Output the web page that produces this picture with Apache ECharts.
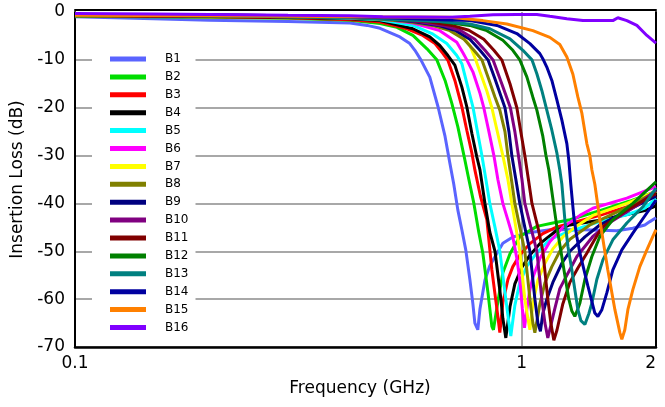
<!DOCTYPE html>
<html>
<head>
<meta charset="utf-8">
<script src="https://cdn.jsdelivr.net/npm/echarts@6/dist/echarts.min.js"></script>
<style>
  html, body { margin: 0; padding: 0; background: #fff; }
  #chart { width: 665px; height: 407px; }
</style>
</head>
<body>
<div id="chart"></div>
<script>
// Low-pass filter bank: insertion loss (dB) versus frequency (GHz), one trace per band.
const bandNames = ['B1', 'B2', 'B3', 'B4', 'B5', 'B6', 'B7', 'B8',
                   'B9', 'B10', 'B11', 'B12', 'B13', 'B14', 'B15', 'B16'];

// Each trace: [frequency GHz, insertion loss dB]
const b1 = [[0.1,-1.0],[0.15,-1.4],[0.2,-1.7],[0.3,-2.0],[0.413,-2.3],[0.451,-2.8],[0.482,-3.4],[0.534,-5.2],[0.562,-6.6],[0.577,-8.0],[0.595,-10.0],[0.623,-13.6],[0.650,-19.8],[0.674,-26.0],[0.691,-31.6],[0.705,-36.0],[0.720,-41.4],[0.735,-45.5],[0.750,-49.7],[0.766,-55.9],[0.778,-61.0],[0.786,-65.0],[0.798,-66.4],[0.807,-62.0],[0.828,-56.0],[0.849,-53.0],[0.881,-50.4],[0.908,-48.3],[0.956,-47.0],[1.028,-46.2],[1.157,-45.5],[1.372,-45.5],[1.634,-45.7],[1.775,-45.2],[1.888,-44.5],[1.938,-43.8],[2.0,-43.0]];
const b2 = [[0.1,-0.9],[0.2,-1.1],[0.3,-1.3],[0.413,-1.7],[0.482,-2.4],[0.526,-3.2],[0.571,-4.9],[0.614,-7.7],[0.646,-10.0],[0.674,-14.3],[0.698,-19.1],[0.720,-24.0],[0.743,-30.0],[0.762,-35.0],[0.782,-40.0],[0.802,-46.0],[0.819,-50.4],[0.841,-58.7],[0.858,-65.7],[0.865,-66.4],[0.885,-60.5],[0.908,-54.5],[0.942,-50.5],[0.991,-46.9],[1.082,-44.8],[1.175,-44.1],[1.283,-43.4],[1.497,-41.5],[1.748,-39.5],[2.0,-37.5]];
const b3 = [[0.1,-0.8],[0.2,-1.0],[0.3,-1.2],[0.413,-1.6],[0.482,-2.1],[0.554,-3.5],[0.601,-4.9],[0.640,-6.6],[0.667,-8.7],[0.684,-10.1],[0.709,-14.3],[0.735,-19.8],[0.754,-24.7],[0.774,-29.5],[0.786,-33.0],[0.809,-38.5],[0.836,-43.4],[0.858,-53.9],[0.881,-62.2],[0.894,-67.0],[0.908,-60.7],[0.932,-55.9],[0.956,-53.2],[0.991,-50.8],[1.044,-48.4],[1.116,-46.3],[1.200,-44.9],[1.283,-44.2],[1.497,-42.5],[1.748,-40.5],[2.0,-38.5]];
const b4 = [[0.1,-0.7],[0.2,-0.9],[0.3,-1.1],[0.413,-1.4],[0.482,-1.8],[0.571,-3.5],[0.623,-5.2],[0.656,-7.0],[0.684,-9.1],[0.709,-11.1],[0.735,-15.7],[0.754,-19.8],[0.774,-25.4],[0.794,-30.3],[0.807,-33.0],[0.828,-40.0],[0.849,-46.0],[0.872,-50.0],[0.899,-60.0],[0.908,-64.0],[0.922,-68.1],[0.942,-61.6],[0.966,-56.8],[1.002,-53.3],[1.044,-50.8],[1.099,-48.4],[1.200,-45.6],[1.283,-44.5],[1.497,-43.5],[1.721,-42.3],[1.888,-41.5],[2.0,-40.5]];
const b5 = [[0.1,-0.7],[0.2,-0.8],[0.3,-1.0],[0.413,-1.3],[0.482,-1.6],[0.571,-2.8],[0.630,-4.5],[0.680,-6.6],[0.716,-9.1],[0.735,-10.8],[0.758,-15.7],[0.778,-19.8],[0.798,-25.4],[0.815,-30.0],[0.832,-35.0],[0.849,-40.0],[0.872,-45.0],[0.894,-50.0],[0.922,-60.0],[0.937,-65.0],[0.946,-67.7],[0.966,-61.3],[0.991,-56.5],[1.028,-53.1],[1.082,-50.3],[1.157,-47.5],[1.283,-45.8],[1.497,-43.8],[1.721,-42.4],[1.888,-41.0],[2.0,-39.0]];
const b6 = [[0.1,-0.6],[0.2,-0.7],[0.3,-0.9],[0.413,-1.2],[0.482,-1.4],[0.571,-2.3],[0.656,-3.9],[0.716,-6.3],[0.739,-8.5],[0.754,-10.0],[0.778,-12.5],[0.807,-17.0],[0.823,-20.0],[0.845,-25.0],[0.867,-30.0],[0.885,-35.0],[0.908,-40.0],[0.932,-43.5],[0.956,-47.0],[0.976,-51.5],[0.991,-56.0],[1.004,-62.0],[1.015,-66.0],[1.028,-62.0],[1.044,-58.0],[1.060,-55.5],[1.099,-51.5],[1.157,-48.0],[1.237,-45.0],[1.351,-42.5],[1.444,-41.0],[1.721,-38.9],[2.0,-36.5]];
const b7 = [[0.1,-0.5],[0.2,-0.7],[0.3,-0.9],[0.413,-1.1],[0.482,-1.3],[0.623,-2.3],[0.691,-3.3],[0.735,-5.0],[0.766,-7.0],[0.786,-9.5],[0.807,-12.5],[0.836,-16.5],[0.858,-20.0],[0.885,-25.5],[0.908,-30.0],[0.932,-35.0],[0.951,-40.0],[0.971,-45.0],[0.991,-50.0],[1.017,-60.0],[1.033,-64.0],[1.044,-66.4],[1.060,-61.0],[1.088,-56.0],[1.128,-52.5],[1.175,-49.5],[1.237,-47.0],[1.316,-45.0],[1.444,-42.5],[1.721,-40.0],[2.0,-37.5]];
const b8 = [[0.1,-0.6],[0.2,-0.8],[0.3,-1.0],[0.413,-1.2],[0.482,-1.5],[0.554,-2.0],[0.630,-2.8],[0.688,-3.8],[0.743,-5.7],[0.782,-8.0],[0.815,-10.0],[0.841,-13.6],[0.872,-17.8],[0.894,-20.5],[0.918,-25.0],[0.932,-30.0],[0.949,-35.0],[0.966,-40.0],[0.991,-45.0],[1.017,-50.0],[1.044,-60.0],[1.060,-65.0],[1.071,-67.0],[1.099,-61.0],[1.128,-56.6],[1.169,-53.2],[1.218,-50.0],[1.283,-47.5],[1.422,-44.5],[1.577,-42.5],[1.748,-40.5],[2.0,-37.5]];
const b9 = [[0.1,-0.5],[0.2,-0.7],[0.3,-0.9],[0.413,-1.1],[0.482,-1.3],[0.571,-2.0],[0.650,-2.8],[0.709,-3.8],[0.766,-5.7],[0.807,-8.0],[0.841,-10.0],[0.872,-14.0],[0.918,-20.0],[0.937,-25.0],[0.951,-30.0],[0.971,-35.0],[0.991,-40.0],[1.017,-45.0],[1.044,-50.0],[1.071,-60.0],[1.088,-65.0],[1.102,-66.7],[1.116,-63.0],[1.139,-60.0],[1.175,-56.5],[1.231,-52.5],[1.283,-50.0],[1.386,-47.0],[1.497,-44.5],[1.721,-41.5],[2.0,-38.5]];
const b10 = [[0.1,-0.5],[0.2,-0.6],[0.3,-0.8],[0.413,-1.0],[0.482,-1.2],[0.586,-2.0],[0.667,-2.8],[0.728,-3.8],[0.786,-5.7],[0.828,-8.0],[0.863,-10.0],[0.903,-15.0],[0.944,-20.0],[0.966,-25.0],[0.984,-30.0],[1.002,-35.0],[1.017,-40.0],[1.049,-45.0],[1.082,-50.0],[1.110,-60.0],[1.128,-65.0],[1.145,-68.1],[1.163,-65.5],[1.187,-62.0],[1.218,-57.8],[1.263,-55.0],[1.330,-51.1],[1.444,-46.9],[1.577,-44.0],[1.660,-42.7],[1.840,-40.0],[2.0,-37.2]];
const b11 = [[0.1,-0.6],[0.2,-0.8],[0.3,-1.0],[0.413,-1.1],[0.482,-1.3],[0.614,-2.0],[0.698,-2.8],[0.762,-3.8],[0.823,-5.7],[0.867,-8.0],[0.903,-10.0],[0.942,-15.0],[0.976,-20.0],[0.996,-25.0],[1.017,-30.0],[1.036,-35.0],[1.055,-40.0],[1.088,-45.0],[1.116,-50.0],[1.145,-60.0],[1.163,-65.0],[1.181,-68.6],[1.200,-66.5],[1.237,-61.0],[1.283,-56.5],[1.337,-53.5],[1.400,-50.4],[1.459,-47.5],[1.521,-44.8],[1.721,-41.4],[2.0,-37.9]];
const b12 = [[0.1,-0.5],[0.2,-0.7],[0.3,-0.9],[0.413,-1.1],[0.534,-1.5],[0.656,-2.0],[0.766,-2.8],[0.836,-3.9],[0.908,-5.9],[0.956,-8.0],[0.991,-10.0],[1.028,-13.6],[1.060,-17.8],[1.082,-20.5],[1.116,-26.0],[1.134,-30.0],[1.151,-33.0],[1.175,-39.0],[1.200,-45.0],[1.225,-50.0],[1.250,-55.0],[1.276,-60.0],[1.296,-62.5],[1.316,-63.6],[1.337,-62.0],[1.351,-60.8],[1.386,-55.9],[1.437,-51.1],[1.497,-46.9],[1.601,-43.4],[1.775,-40.0],[2.0,-35.5]];
const b13 = [[0.1,-0.6],[0.2,-0.8],[0.3,-1.0],[0.413,-1.2],[0.534,-1.6],[0.656,-2.0],[0.766,-2.5],[0.849,-3.5],[0.942,-5.6],[1.007,-8.0],[1.055,-10.0],[1.082,-12.9],[1.110,-16.4],[1.139,-20.5],[1.169,-24.7],[1.200,-29.5],[1.218,-33.0],[1.231,-36.0],[1.250,-43.4],[1.270,-49.0],[1.296,-53.9],[1.337,-62.2],[1.358,-64.5],[1.386,-65.3],[1.415,-63.0],[1.437,-60.8],[1.474,-55.9],[1.521,-51.8],[1.601,-47.6],[1.721,-44.1],[1.869,-40.7],[2.0,-36.8]];
const b14 = [[0.1,-0.5],[0.2,-0.6],[0.3,-0.8],[0.413,-1.0],[0.534,-1.3],[0.656,-1.6],[0.766,-1.8],[0.881,-2.8],[0.976,-4.5],[1.044,-6.6],[1.099,-8.7],[1.119,-10.0],[1.139,-11.5],[1.169,-14.3],[1.200,-18.4],[1.231,-22.6],[1.263,-27.5],[1.276,-31.0],[1.289,-36.0],[1.310,-43.0],[1.330,-47.0],[1.351,-50.4],[1.408,-57.3],[1.459,-62.9],[1.482,-63.6],[1.513,-62.2],[1.552,-58.7],[1.601,-53.9],[1.677,-49.7],[1.775,-46.2],[1.908,-42.0],[2.0,-39.3]];
const b15 = [[0.1,-0.7],[0.2,-0.8],[0.3,-0.9],[0.413,-1.0],[0.691,-1.1],[0.819,-1.8],[0.927,-2.5],[1.060,-3.9],[1.157,-5.3],[1.218,-6.8],[1.263,-9.4],[1.303,-13.0],[1.337,-17.8],[1.365,-21.2],[1.400,-27.5],[1.422,-30.0],[1.437,-33.0],[1.459,-36.0],[1.497,-43.4],[1.536,-50.0],[1.560,-53.9],[1.618,-62.2],[1.660,-67.0],[1.677,-68.4],[1.703,-66.4],[1.730,-62.2],[1.775,-58.0],[1.840,-53.2],[1.908,-49.7],[1.968,-46.9],[2.0,-45.5]];
const b16 = [[0.1,-0.3],[0.15,-0.4],[0.2,-0.5],[0.3,-0.7],[0.413,-0.8],[0.489,-1.0],[0.691,-1.1],[0.766,-0.9],[0.863,-0.6],[0.976,-0.5],[1.082,-0.5],[1.157,-0.9],[1.263,-1.4],[1.372,-1.8],[1.601,-1.8],[1.643,-1.2],[1.721,-1.8],[1.812,-2.8],[1.908,-4.9],[2.0,-6.5]];

const bandTraces = [b1, b2, b3, b4, b5, b6, b7, b8, b9, b10, b11, b12, b13, b14, b15, b16];

const bandColors = ['#5a64ff', '#00dd00', '#ff0000', '#000000', '#00ffff', '#ff00ff', '#ffff00', '#808000',
                    '#000080', '#800080', '#800000', '#008000', '#008080', '#0000a0', '#ff8000', '#8000ff'];

const FONT = 'DejaVu Sans';
const chart = echarts.init(document.getElementById('chart'), null, { renderer: 'canvas' });

chart.setOption({
  animation: false,
  backgroundColor: '#ffffff',
  grid: { left: 75, right: 9, top: 12, bottom: 60 },
  xAxis: [
    {
      type: 'log', logBase: 10, min: 0.1, max: 2,
      name: 'Frequency (GHz)', nameLocation: 'middle', nameGap: 33,
      nameTextStyle: { fontFamily: FONT, fontSize: 17, color: '#000', padding: [0, 11, 0, 0] },
      axisLine: { onZero: false, lineStyle: { color: '#000', width: 2.5 } },
      axisTick: { show: false },
      axisLabel: { fontFamily: FONT, fontSize: 17, color: '#000', margin: 8, alignMaxLabel: 'right' },
      splitLine: { show: true, lineStyle: { color: '#a8a8a8', width: 2 } }
    },
    {
      type: 'log', logBase: 10, min: 0.1, max: 2, position: 'top', offset: 2,
      axisLine: { show: true, onZero: false, lineStyle: { color: '#000', width: 2 } },
      axisTick: { show: false }, axisLabel: { show: false }, splitLine: { show: false }
    }
  ],
  yAxis: [
    {
      type: 'value', min: -70, max: 0, interval: 10,
      name: 'Insertion Loss (dB)', nameLocation: 'middle', nameGap: 39,
      nameTextStyle: { fontFamily: FONT, fontSize: 17, color: '#000' },
      axisLine: { show: true, onZero: false, lineStyle: { color: '#000', width: 2 } },
      axisTick: { show: false },
      axisLabel: { fontFamily: FONT, fontSize: 17, color: '#000', margin: 10, padding: [2, 0, 0, 0] },
      splitLine: { show: true, showMaxLine: false, lineStyle: { color: '#a8a8a8', width: 2 } }
    },
    {
      type: 'value', min: -70, max: 0, interval: 10, position: 'right',
      axisLine: { show: true, onZero: false, lineStyle: { color: '#000', width: 2 } },
      axisTick: { show: false }, axisLabel: { show: false }, splitLine: { show: false }
    }
  ],
  legend: {
    orient: 'vertical', left: 92, top: 45,
    padding: [8, 7, 8, 18],
    backgroundColor: '#ffffff',
    icon: 'rect', itemWidth: 36, itemHeight: 5, itemGap: 5.9,
    textStyle: { fontFamily: FONT, fontSize: 12, color: '#000', lineHeight: 12, padding: [0, 0, 0, 14] },
    data: bandNames
  },
  series: bandTraces.map((trace, i) => ({
    name: bandNames[i],
    type: 'line',
    data: trace,
    symbol: 'none',
    showSymbol: false,
    smooth: false,
    lineStyle: { width: 3, color: bandColors[i] },
    itemStyle: { color: bandColors[i] }
  }))
});
</script>
</body>
</html>
